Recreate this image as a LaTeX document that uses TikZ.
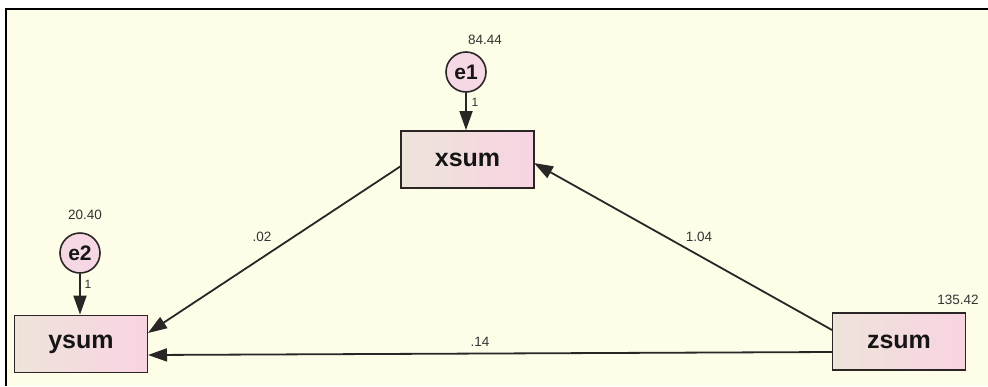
\documentclass[tikz,border=0pt]{standalone}
\usepackage{fontspec}
\setmainfont{Liberation Sans}
\usetikzlibrary{arrows.meta}
\definecolor{paper}{HTML}{FEFDE8}
\definecolor{boxL}{HTML}{EEE4DA}
\definecolor{boxR}{HTML}{F8D3E2}
\definecolor{errfill}{HTML}{F5D8E4}
\definecolor{ink}{HTML}{2A2626}
\definecolor{label}{HTML}{151515}
\definecolor{numink}{HTML}{333333}
\tikzset{
  observed/.style={draw=ink, line width=1.8pt, left color=boxL, right color=boxR,
    minimum width=133pt, minimum height=57pt, inner sep=0pt,
    font=\fontsize{25}{25}\selectfont\bfseries, text=label},
  errvar/.style={circle, draw=ink, line width=1.6pt, fill=errfill,
    minimum size=40pt, inner sep=0pt,
    font=\fontsize{21}{21}\selectfont\bfseries, text=label},
  path/.style={draw=ink, line width=1.8pt, -{Triangle[length=19pt,width=13pt]}},
  est/.style={font=\fontsize{13.5}{14}\selectfont, text=numink, inner sep=0pt},
  wt/.style={font=\fontsize{12}{12}\selectfont, text=numink, inner sep=0pt}
}
\begin{document}
\begin{tikzpicture}[x=1pt,y=-1pt]
  \useasboundingbox (0,0) rectangle (988,386);
  % canvas and frame
  \fill[white] (0,0) rectangle (988,386);
  \fill[paper] (6,9) rectangle (988,386);
  \draw[black, line width=1.4pt] (6,386) -- (6,9) -- (988,9);

  % observed variables
  \node[observed] (xsum) at (467.5,159.5) {xsum};
  \node[observed] (ysum) at (81,344) {ysum};
  \node[observed] (zsum) at (899,341.5) {zsum};

  % error terms
  \node[errvar] (e1) at (466,72) {e1};
  \node[errvar] (e2) at (80,253) {e2};

  % variances
  \node[est] (v1) at (485,40) {84.44};
  \node[est] (v2) at (85,215) {20.40};
  \node[est] (v3) at (958,300) {135.42};

  % regression paths
  \draw[path] (e1) -- (xsum.north -| e1);
  \draw[path] (e2) -- (ysum.north -| e2);
  \coordinate (xl) at (401,166);
  \coordinate (yr1) at (148,333);
  \coordinate (zl1) at (832,330);
  \coordinate (xr) at (534,163);
  \coordinate (zl2) at (832,352);
  \coordinate (yr2) at (148,355);
  \draw[path] (xl) -- (yr1);
  \draw[path] (zl1) -- (xr);
  \draw[path] (zl2) -- (yr2);

  % weights
  \node[wt] (w1) at (475,102) {1};
  \node[wt] (w2) at (88,284) {1};
  \node[est] (w3) at (262,237) {.02};
  \node[est] (w4) at (699,237) {1.04};
  \node[est] (w5) at (480,342) {.14};
\end{tikzpicture}
\end{document}
